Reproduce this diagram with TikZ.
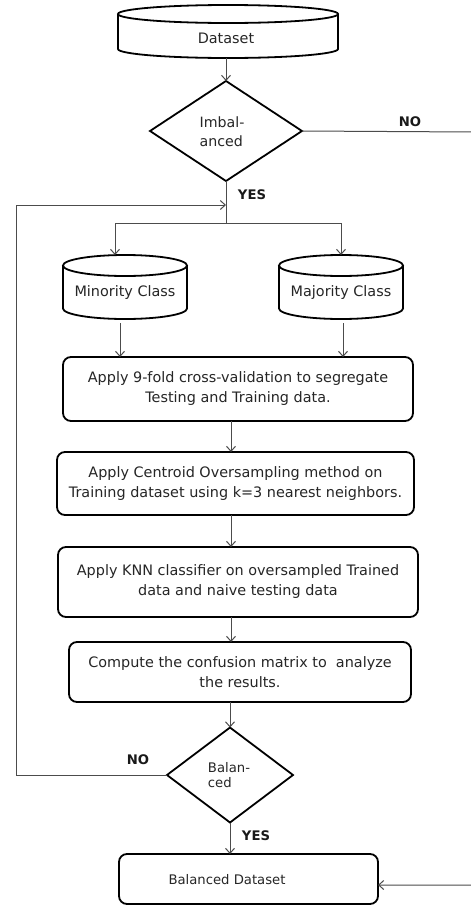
\documentclass[tikz,border=0pt]{standalone}
\usepackage{fontspec}
\setmainfont{DejaVu Sans}
\usetikzlibrary{shapes.geometric,arrows.meta,calc}
\tikzset{
 shp/.style={draw=black, line width=1.8pt},
 procbox/.style={draw=black, line width=1.8pt, rounded corners=8pt, inner sep=0pt, outer sep=0pt},
 cylbox/.style={inner sep=0pt, outer sep=0pt},
 decision/.style={diamond, aspect=1.5, draw=black, line width=1.8pt, inner sep=0pt, outer sep=0pt},
 conn/.style={draw=black!70, line width=1pt},
 arr/.style={conn, -{Straight Barb[length=5pt,width=9pt]}},
 lbl/.style={font=\fontsize{13.2}{15}\selectfont\bfseries, text=black!90},
 txt/.style={font=\fontsize{14.4}{20}\selectfont, align=center, text=black!85},
 smalltxt/.style={font=\fontsize{13.2}{15}\selectfont, align=left, text=black!85}
}
\newcommand{\drawcyl}[6]{%
 \node[cylbox, minimum width={#3-#2}, minimum height={#5-#4}] (#1) at ({(#2+#3)/2},{-(#4+#5)/2}) {};
 \draw[shp] (#2,{-#4-#6}) -- (#2,{-#5+#6}) arc[start angle=180,end angle=360,x radius={(#3-#2)/2},y radius=#6] -- (#3,{-#4-#6});
 \draw[shp] ({(#2+#3)/2},{-#4-#6}) ellipse[x radius={(#3-#2)/2}, y radius=#6];
}
\begin{document}
\begin{tikzpicture}[x=1pt,y=1pt]
\useasboundingbox (0,0) rectangle (471,-905);
\fill[white] (0,0) rectangle (471,-905);

% cylinders
\drawcyl{dataset}{118}{338}{5}{58}{9}
\node[txt] (datasettxt) at (226,-38) {Dataset};
\drawcyl{mincyl}{63}{187}{255}{319}{10.5}
\node[txt] (mintxt) at (125,-293) {Minority Class};
\drawcyl{majcyl}{279}{403}{255}{319}{10.5}
\node[txt] (majtxt) at (341,-293) {Majority Class};

% decisions
\node[decision, minimum width=152, minimum height=100] (d1) at (226,-131) {};
\node[smalltxt, font=\fontsize{14.2}{19}\selectfont] (d1txt) at (222,-132) {Imbal-\\anced};
\node[decision, minimum width=126, minimum height=95] (d2) at (230,-775) {};
\node[smalltxt] (d2txt) at (229,-775) {Balan-\\ced};

% process boxes
\node[procbox, txt, minimum width=350, minimum height=64] (b1) at (238,-389) {Apply 9-fold cross-validation to segregate\\Testing and Training data.};
\node[procbox, txt, minimum width=357, minimum height=63] (b2) at (235.5,-483.5) {Apply Centroid Oversampling method on\\Training dataset using k=3 nearest neighbors.};
\node[procbox, txt, minimum width=360, minimum height=70] (b3) at (238,-582) {Apply KNN classifier on oversampled Trained\\data and naive testing data};
\node[procbox, txt, minimum width=342, minimum height=60] (b4) at (240,-672) {Compute the confusion matrix to\ \ analyze\\the results.};
\node[procbox, minimum width=259, minimum height=50] (b5) at (248.5,-879) {};
\node[txt, font=\fontsize{13.2}{15}\selectfont] (b5txt) at (227,-880) {Balanced Dataset};

% labels
\node[lbl] (no1) at (410,-122) {NO};
\node[lbl] (yes1) at (252,-195) {YES};
\node[lbl] (no2) at (138,-760) {NO};
\node[lbl] (yes2) at (256,-836) {YES};

% helper coordinates
\coordinate (col) at (231,0);
\coordinate (jn) at (226,-223);
\coordinate (fb) at (226,-205);
\coordinate (lx) at (16,-205);
\coordinate (rt) at (472.5,-132);

% connectors
\draw[arr] (dataset.south -| d1.north) -- (d1.north);
\draw[conn] (d1.south) -- (jn);
\draw[arr] (jn) -| ([xshift=-10pt]mincyl.north);
\draw[arr] (jn) -| (majcyl.north);
\draw[arr] (d2.west) -| (lx) -- (fb);
\draw[arr] ([xshift=-5pt,yshift=-4pt]mincyl.south) -- ([xshift=-5pt]mincyl.south |- b1.north);
\draw[arr] ([xshift=2pt,yshift=-4pt]majcyl.south) -- ([xshift=2pt]majcyl.south |- b1.north);
\draw[arr] (b1.south -| col) -- (b2.north -| col);
\draw[arr] (b2.south -| col) -- (b3.north -| col);
\draw[arr] (b3.south -| col) -- (b4.north -| col);
\draw[arr] (b4.south -| d2.north) -- (d2.north);
\draw[arr] (d2.south) -- (d2.south |- b5.north);
\draw[arr] (d1.east) -- (rt) |- ([yshift=-6pt]b5.east);
\end{tikzpicture}
\end{document}
